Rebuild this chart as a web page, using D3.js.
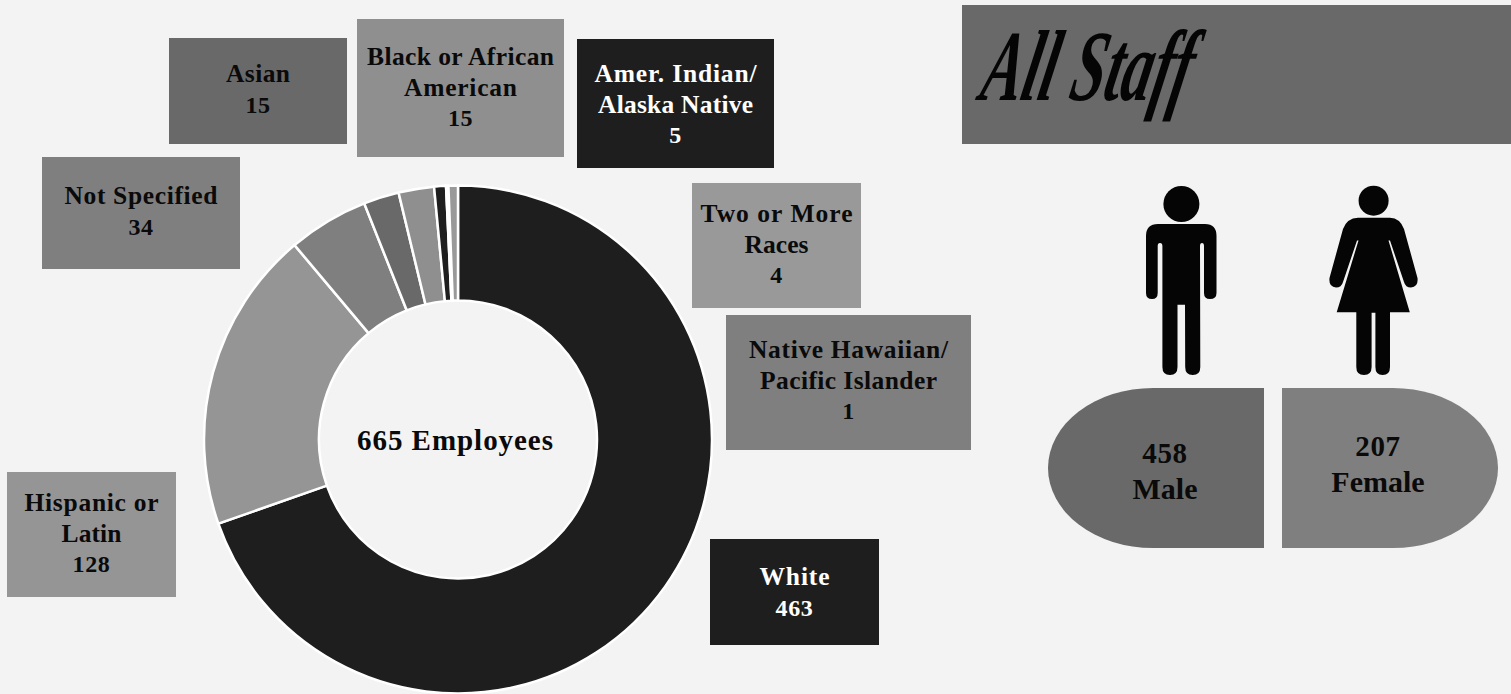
<!DOCTYPE html>
<html><head><meta charset="utf-8">
<script src="https://cdn.jsdelivr.net/npm/d3@7"></script>
<style>html,body{margin:0;padding:0;background:#f3f3f3;overflow:hidden}svg{display:block}
text{font-family:"Liberation Serif",serif;font-weight:700;text-anchor:middle}</style></head>
<body><svg id="c" width="1511" height="694"></svg>
<script>
// Data
const categories=["White","Hispanic or Latin","Not Specified","Asian","Black or African American","Amer. Indian/ Alaska Native","Native Hawaiian/ Pacific Islander","Two or More Races"];
const values=[463,128,34,15,15,5,1,4];
const labelLines=[["White"],["Hispanic or","Latin"],["Not Specified"],["Asian"],["Black or African","American"],["Amer. Indian/","Alaska Native"],["Native Hawaiian/","Pacific Islander"],["Two or More","Races"]];
const genders=["Male","Female"];
const genderValues=[458,207];
const totalLabel="Employees";
const title="All Staff";
// Styles and layout
const colors=["#1e1e1e","#959595","#7f7f7f","#696969","#8f8f8f","#1e1e1e","#7f7f7f","#999999"];
const textColors=["#fff","#0a0a0a","#0a0a0a","#0a0a0a","#0a0a0a","#fff","#0a0a0a","#0a0a0a"];
const boxes=[[710,539,169,106,585],[7,472,169,125,511],[42,157,198,112,204],[169,38,178,106,82],[357,19,207,138,65],[577,39,197,129,82],[726,315,245,135,358],[692,183,169,125,222]];
const svg=d3.select("#c");
svg.append("rect").attr("width",1511).attr("height",694).attr("fill","#f3f3f3");
const total=d3.sum(values);
const pie=d3.pie().sort(null).value(d=>d)(values);
const arc=d3.arc().innerRadius(139).outerRadius(254);
const donut=svg.append("g").attr("transform","translate(458,439.5)");
donut.selectAll("path").data(pie).join("path").attr("d",arc).attr("fill",(d,i)=>colors[i]).attr("stroke","#fff").attr("stroke-width",2.5);
svg.append("text").attr("x",455).attr("y",450).attr("font-size",29).attr("textLength",196).attr("lengthAdjust","spacing").attr("fill","#0a0a0a").text(total+" "+totalLabel);
// Label boxes
const fitWidths={"White":70,"Hispanic or":134,"Latin":60,"Not Specified":153,"Asian":64,"Black or African":187,"American":113,"Amer. Indian/":162,"Alaska Native":155,"Native Hawaiian/":199,"Pacific Islander":177,"Two or More":152,"Races":64};
categories.forEach((c,i)=>{
  const [x,y,w,h,b]=boxes[i];
  svg.append("rect").attr("x",x).attr("y",y).attr("width",w).attr("height",h).attr("fill",colors[i]);
  const lines=labelLines[i].concat(String(values[i]));
  lines.forEach((l,j)=>{
    const t=svg.append("text").attr("x",x+w/2).attr("y",b+j*30.7).attr("font-size",25.5).attr("fill",textColors[i]).text(l);
    if(fitWidths[l]) t.attr("textLength",fitWidths[l]).attr("lengthAdjust","spacing");
    else t.attr("font-size",24).attr("letter-spacing",.6);
  });
});
// Header
svg.append("rect").attr("x",962).attr("y",5).attr("width",549).attr("height",139).attr("fill","#696969");
svg.append("text").attr("transform","translate(978,100) skewX(-12) scale(.72,1.2)")
  .style("text-anchor","start").style("font-style","italic").attr("font-size",84).attr("fill","#050505").text(title);
// Icons
const ink="#050505";
const man=svg.append("g").attr("fill",ink);
man.append("circle").attr("cx",1181.4).attr("cy",204).attr("r",18);
man.append("path").attr("d","M1158 224H1205Q1216.5 224 1216.5 236V293Q1216.5 299 1210 299Q1204 299 1204 293V246Q1204 243 1202 243Q1200 243 1200 246L1200.3 367Q1200.3 375 1192.7 375Q1185.2 375 1185.2 367L1185 304.7H1177.5V367Q1177.5 375 1170 375Q1162.4 375 1162.4 367V246Q1162.4 243 1160 243Q1157.7 243 1157.7 246V293Q1157.7 299 1152 299Q1146 299 1146 293V236Q1146 224 1158 224Z");
const woman=svg.append("g").attr("fill",ink);
woman.append("circle").attr("cx",1373.6).attr("cy",200.7).attr("r",15);
woman.append("path").attr("d","M1358 217.7H1390Q1400 218 1404 229L1417.5 278Q1418.5 287 1411 287.5Q1405.5 287.5 1404 282L1390 240.5L1388.5 240.5L1409.8 312.3H1390V367Q1390 375 1382.6 375Q1375.4 375 1375.4 367V312.8H1371.6V367Q1371.6 375 1364 375Q1356.3 375 1356.3 367V312.3H1336.7L1358.5 240.5L1357 240.5L1343 282Q1341.5 287.5 1336 287.5Q1328.5 287 1329.5 278L1343 229Q1347 218 1358 217.7Z");
// Gender pills
const pillPaths=["M1264 388H1153A105 80 0 0 0 1153 548H1264Z","M1282 388H1393A105 80 0 0 1 1393 548H1282Z"];
const pillColors=["#696969","#7f7f7f"];
const pillText=[[1165,463,499],[1378,456,492]];
genders.forEach((g,i)=>{
  svg.append("path").attr("d",pillPaths[i]).attr("fill",pillColors[i]);
  const [x,y1,y2]=pillText[i];
  svg.append("text").attr("x",x).attr("y",y1).attr("font-size",29).attr("letter-spacing",.6).attr("fill","#0a0a0a").text(genderValues[i]);
  svg.append("text").attr("x",x).attr("y",y2).attr("font-size",30).attr("fill","#0a0a0a").text(g);
});
</script></body></html>
